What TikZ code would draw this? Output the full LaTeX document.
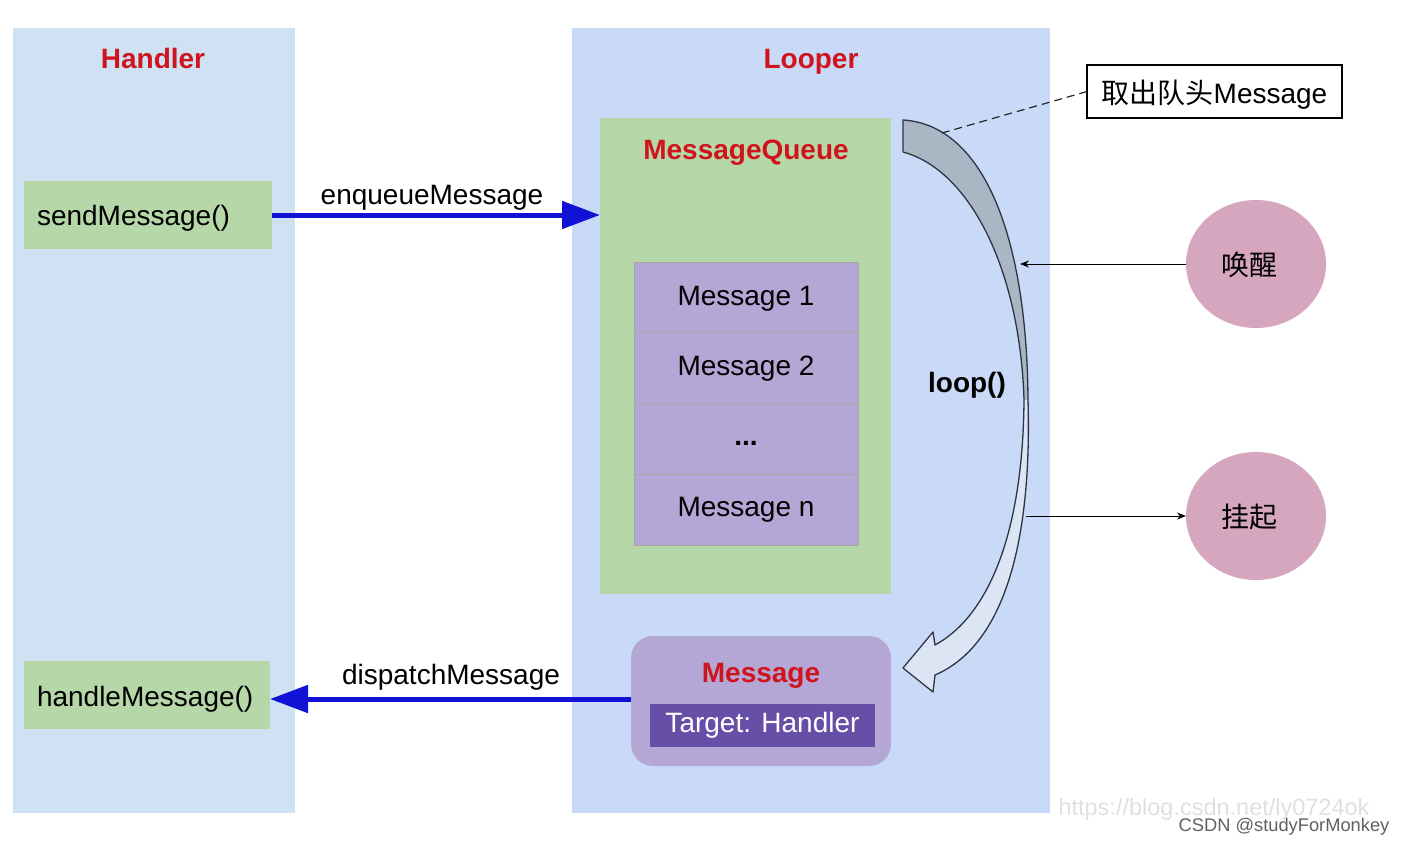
\documentclass[tikz,border=0pt]{standalone}
\usepackage{fontspec}
\setmainfont{Liberation Sans}
\newfontfamily\cjk{Noto Sans CJK SC}
\usetikzlibrary{arrows.meta,shapes.geometric}
\definecolor{panelA}{HTML}{CFE2F3}
\definecolor{panelB}{HTML}{C9DAF8}
\definecolor{greenbox}{HTML}{B6D7A8}
\definecolor{purp}{HTML}{B4A7D6}
\definecolor{darkpurp}{HTML}{674EA7}
\definecolor{redt}{HTML}{D0141E}
\definecolor{pinkc}{HTML}{D5A6BD}
\definecolor{arrowblue}{HTML}{1212D6}
\definecolor{loopgray}{HTML}{A9B6C4}
\definecolor{looplight}{HTML}{DCE5F4}
\definecolor{loopline}{HTML}{2E3440}
\begin{document}
\begin{tikzpicture}[x=1pt,y=-1pt,
  every node/.style={font=\fontsize{28}{32}\selectfont, inner sep=0pt, outer sep=0pt, text height=20pt, text depth=6pt},
  panelbox/.style={rectangle},
  titletext/.style={text=redt, font=\fontsize{28}{32}\selectfont\bfseries},
  funcbox/.style={rectangle, fill=greenbox, minimum height=68pt},
  msgrow/.style={rectangle, fill=purp, draw=black!35, line width=0.8pt, minimum width=224pt, minimum height=70.5pt},
  bluearrow/.style={draw=arrowblue, line width=5pt, -{Triangle[length=38pt,width=27pt]}},
  circ/.style={ellipse, fill=pinkc, minimum width=140pt, minimum height=128pt},
  thinarrow/.style={draw=black, line width=1pt, -{Stealth[length=9pt,width=7pt]}},
  looparrow/.style={draw=loopline, line width=1.3pt, line join=round}
]
\useasboundingbox (0,0) rectangle (1406,846);
\fill[white] (0,0) rectangle (1406,846);

% panels
\node[panelbox, fill=panelA, minimum width=282pt, minimum height=785pt] (handlerpanel) at (154,420.5) {};
\node[panelbox, fill=panelB, minimum width=478pt, minimum height=785pt] (looperpanel) at (811,420.5) {};
\node[titletext] (handlertitle) at (153,61) {Handler};
\node[titletext] (loopertitle) at (811,61) {Looper};

% handler functions
\node[funcbox, minimum width=248pt] (send) at (148,215) {};
\node[anchor=west] (sendtext) at (37,218) {sendMessage()};
\node[funcbox, minimum width=246pt] (handle) at (147,695) {};
\node[anchor=west] (handletext) at (37,699) {handleMessage()};

% message queue
\node[rectangle, fill=greenbox, minimum width=291pt, minimum height=476pt] (mq) at (745.5,356) {};
\node[titletext] (mqtitle) at (746,152) {MessageQueue};
\node[msgrow] (m1) at (746,298) {Message 1};
\node[msgrow] (m2) at (746,368) {Message 2};
\node[msgrow, minimum height=71pt] (m3) at (746,438.5) {\textbf{...}};
\node[msgrow, minimum height=71pt] (m4) at (746,509.5) {Message n};

% message being dispatched
\node[rectangle, rounded corners=22pt, fill=purp, minimum width=260pt, minimum height=130pt] (msgbox) at (761,701) {};
\node[titletext] (msgtitle) at (761,675) {Message};
\node[rectangle, fill=darkpurp, text=white, minimum width=225pt, minimum height=43pt] (target) at (762.5,725.5) {Target: Handler};

% blue arrows
\draw[bluearrow] (send.east) -- (mq.west |- send.east);
\node (enqlabel) at (432,197) {enqueueMessage};
\draw[bluearrow] ([yshift=2pt]msgbox.west) -- ([yshift=2pt]msgbox.west -| handle.east);
\node (displabel) at (451,677) {dispatchMessage};

% loop arrow (upper shaded part)
\fill[loopgray] (903,120) .. controls (985,125) and (1027,240) .. (1028,400)
  -- (1024,400) .. controls (1020,270) and (970,170) .. (903,152) -- cycle;
\draw[looparrow] (903,152) -- (903,120) .. controls (985,125) and (1027,240) .. (1028,400);
\draw[looparrow] (903,152) .. controls (970,170) and (1020,270) .. (1024,400);
% loop arrow (lower light part)
\filldraw[looparrow, fill=looplight] (1024,400) .. controls (1023,530) and (990,615) .. (935,645)
  -- (933,632) -- (903,668) -- (933,692) -- (935,675)
  .. controls (1005,645) and (1032,540) .. (1028,400);
\node[font=\fontsize{28}{32}\selectfont\bfseries] (looplabel) at (967,385) {loop()};

% take head message
\node[rectangle, draw=black, line width=1.2pt, fill=white, minimum width=255pt, minimum height=53pt] (takebox) at (1214.5,91.5) {\raisebox{-5pt}{\cjk 取出队头\rmfamily Message}};
\coordinate (dashend) at (942,133);
\draw[black!85, line width=1.2pt, dash pattern=on 8pt off 5pt] (takebox.west) -- (dashend);

% wake / suspend
\node[circ] (wake) at (1256,264) {};
\node (waketext) at (1249,268) {\cjk 唤醒};
\node[circ] (suspend) at (1256,516) {};
\node (suspendtext) at (1249,520) {\cjk 挂起};
\coordinate (wakeend) at (1020,264);
\coordinate (susstart) at (1026,516);
\draw[thinarrow] (wake.west) -- (wakeend);
\draw[thinarrow] (susstart) -- (suspend.west);

% watermarks
\node[text=black!12, font=\fontsize{23.5}{26}\selectfont, text height=17pt, text depth=5pt] (wm1) at (1214,809) {https://blog.csdn.net/ly0724ok};
\node[text=black!62, font=\fontsize{18.3}{21}\selectfont, text height=13pt, text depth=4pt] (wm2) at (1284,827) {CSDN @studyForMonkey};
\end{tikzpicture}
\end{document}
